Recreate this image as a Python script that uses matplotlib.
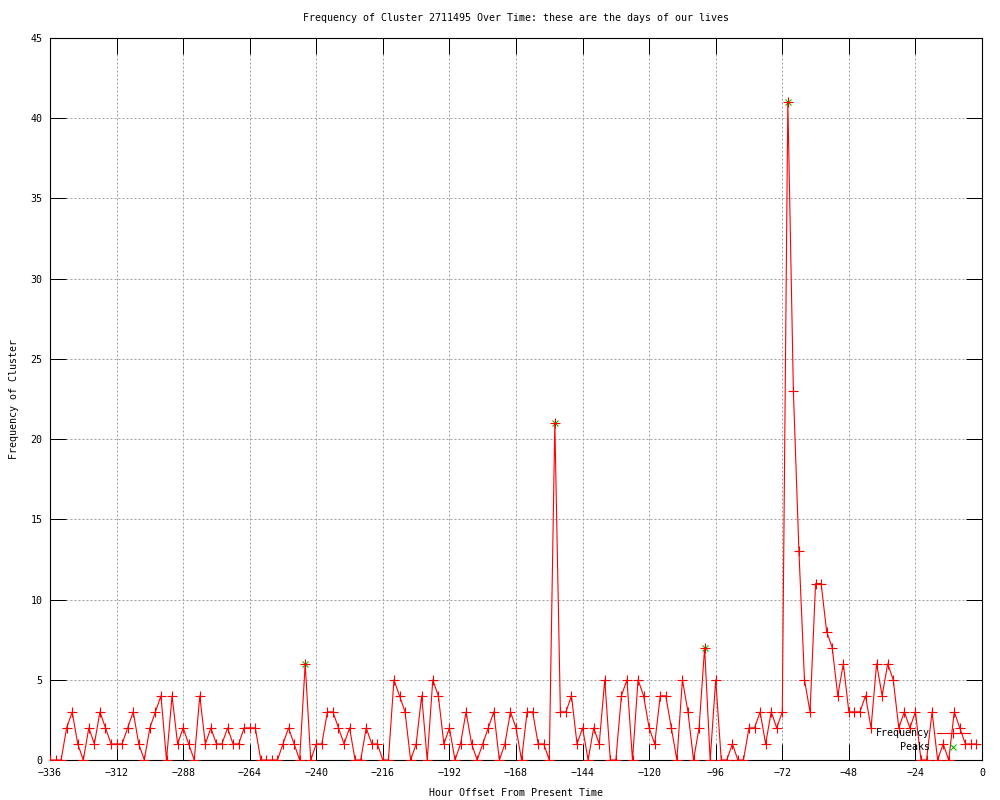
import matplotlib
matplotlib.use("Agg")
import matplotlib.pyplot as plt
from matplotlib.lines import Line2D

# hour offsets, one sample every 2 hours
hours = list(range(-336, 0, 2))
freq = [0, 0, 0, 2, 3, 1, 0, 2, 1, 3, 2, 1, 1, 1, 2, 3, 1, 0, 2, 3,
        4, 0, 4, 1, 2, 1, 0, 4, 1, 2, 1, 1, 2, 1, 1, 2, 2, 2, 0, 0,
        0, 0, 1, 2, 1, 0, 6, 0, 1, 1, 3, 3, 2, 1, 2, 0, 0, 2, 1, 1,
        0, 0, 5, 4, 3, 0, 1, 4, 0, 5, 4, 1, 2, 0, 1, 3, 1, 0, 1, 2,
        3, 0, 1, 3, 2, 0, 3, 3, 1, 1, 0, 21, 3, 3, 4, 1, 2, 0, 2, 1,
        5, 0, 0, 4, 5, 0, 5, 4, 2, 1, 4, 4, 2, 0, 5, 3, 0, 2, 7, 0,
        5, 0, 0, 1, 0, 0, 2, 2, 3, 1, 3, 2, 3, 41, 23, 13, 5, 3, 11, 11,
        8, 7, 4, 6, 3, 3, 3, 4, 2, 6, 4, 6, 5, 2, 3, 2, 3, 0, 0, 3,
        0, 1, 0, 3, 2, 1, 1, 1]

peak_hours = [-244, -154, -100, -70]
peak_freq = [6, 21, 7, 41]

xticks = list(range(-336, 1, 24))
yticks = list(range(0, 46, 5))

plt.rcParams['font.family'] = ['DejaVu Sans Mono']
plt.rcParams['font.size'] = 7.2

lw = 0.8

fig = plt.figure(figsize=(10, 8), dpi=100)
ax = fig.add_axes([0.05, 0.05, 0.932, 0.9025])

ax.plot(peak_hours, peak_freq, ls='none', marker='x', color='#00c000',
        ms=5, mew=lw, zorder=3)
ax.plot(hours, freq, color='#ff0000', lw=lw, marker='+', ms=6.5, mew=lw,
        zorder=4)

ax.set_xlim(-336, 0)
ax.set_ylim(0, 45)
ax.set_xticks(xticks)
ax.set_yticks(yticks)
ax.grid(True, color='#a0a0a0', linestyle=(0, (2, 2)), linewidth=0.72)
ax.tick_params(direction='in', length=11.5, width=0.72, top=True, right=True,
               pad=5.5)
for s in ax.spines.values():
    s.set_linewidth(0.8)

handles = [Line2D([], [], color='#ff0000', lw=lw, marker='+', ms=6.5, mew=lw),
           Line2D([], [], color='#00c000', ls='none', marker='x', ms=5, mew=lw)]
ax.legend(handles, ['Frequency', 'Peaks'], loc='lower right',
          bbox_to_anchor=(0.987, 0.011), frameon=False, markerfirst=False,
          handlelength=3.3, handletextpad=0.7, labelspacing=0.4,
          borderpad=0, borderaxespad=0, numpoints=1)

fig.text(0.516, 1 - 18 / 800,
         "Frequency of Cluster 2711495 Over Time: these are the days of our lives",
         ha='center', va='center')
fig.text(0.516, 1 - 793 / 800, "Hour Offset From Present Time",
         ha='center', va='center')
fig.text(0.014, 0.501, "Frequency of Cluster", rotation=90,
         ha='center', va='center')

fig.savefig("out.png", dpi=100)
